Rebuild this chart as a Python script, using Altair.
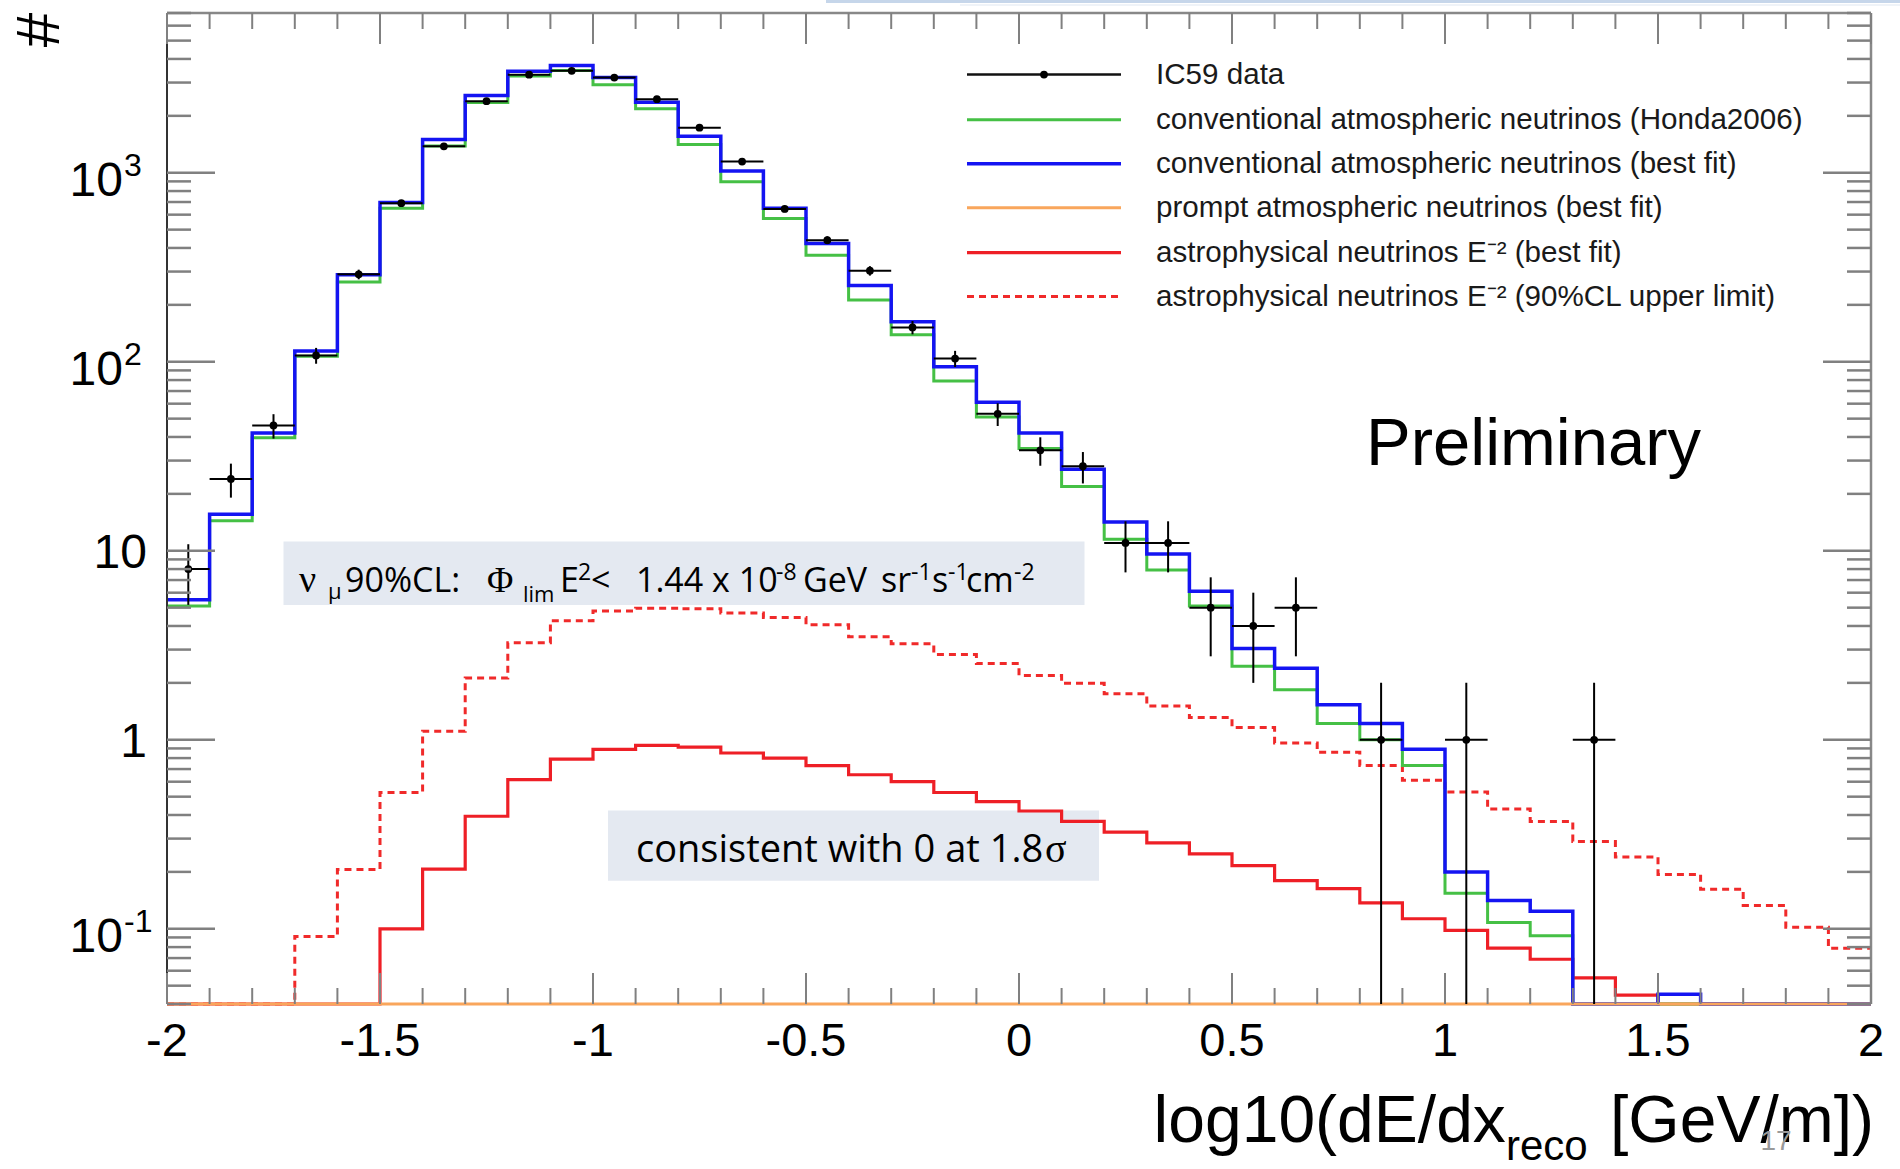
import altair as alt
import numpy as np
import pandas as pd

# ---------------------------------------------------------------------------
# Histogram of log10(dE/dx_reco): 40 bins of width 0.1 between -2 and 2
# ---------------------------------------------------------------------------
bin_edges = np.round(np.linspace(-2.0, 2.0, 41), 2)

# IC59 observed event counts per bin
ic59_counts = [8, 24, 46, 108, 290, 690, 1380, 2390, 3300, 3460,
               3190, 2450, 1730, 1145, 643, 440, 303, 152, 104, 53,
               34, 28, 11, 11, 5, 4, 5, 0, 1, 0,
               1, 0, 0, 1, 0, 0, 0, 0, 0, 0]

# conventional atmospheric neutrinos (Honda2006)
conv_honda = [5.1, 14.4, 39.6, 107, 264, 649, 1386, 2355, 3245, 3475,
              2923, 2183, 1412, 897, 572, 366, 212, 139, 79, 51,
              34.8, 21.9, 11.5, 7.9, 5.1, 2.45, 1.84, 1.22, 1.0, 0.73,
              0.154, 0.108, 0.092, 0, 0, 0, 0, 0, 0, 0]

# conventional atmospheric neutrinos (best fit)
conv_best = [5.5, 15.6, 42, 114, 289, 695, 1500, 2565, 3440, 3690,
             3190, 2360, 1560, 1020, 648, 422, 253, 163, 94, 61,
             42, 27, 14.2, 9.6, 6.1, 3.04, 2.39, 1.53, 1.22, 0.89,
             0.20, 0.141, 0.124, 0, 0, 0.045, 0, 0, 0, 0]

# prompt atmospheric neutrinos (best fit)
prompt_best = [0, 0, 0, 0, 0, 0, 0, 0, 0, 0,
               0, 0, 0, 0, 0, 0, 0, 0, 0, 0,
               0, 0, 0, 0, 0, 0, 0, 0, 0, 0,
               0, 0, 0, 0, 0, 0, 0, 0, 0, 0]

# astrophysical neutrinos E^-2 (best fit)
astro_best = [0, 0, 0, 0, 0, 0.1, 0.207, 0.394, 0.615, 0.79,
              0.89, 0.935, 0.915, 0.851, 0.80, 0.73, 0.653, 0.60, 0.526, 0.471,
              0.42, 0.37, 0.325, 0.285, 0.249, 0.216, 0.18, 0.163, 0.137, 0.113,
              0.098, 0.079, 0.069, 0.055, 0.0446, 0, 0, 0, 0, 0]

# astrophysical neutrinos E^-2 (90%CL upper limit)
astro_limit = [0, 0, 0, 0.091, 0.206, 0.526, 1.11, 2.12, 3.26, 4.26,
               4.80, 4.97, 4.93, 4.69, 4.43, 4.06, 3.51, 3.22, 2.83, 2.53,
               2.19, 1.99, 1.75, 1.51, 1.31, 1.16, 0.96, 0.86, 0.73, 0.61,
               0.53, 0.43, 0.37, 0.29, 0.24, 0.194, 0.162, 0.133, 0.102, 0.079]

x_tick_major = [-2, -1.5, -1, -0.5, 0, 0.5, 1, 1.5, 2]
x_tick_labels = ["-2", "-1.5", "-1", "-0.5", "0", "0.5", "1", "1.5", "2"]
y_decades = [0.1, 1, 10, 100, 1000]

legend_labels = [
    "IC59 data",
    "conventional atmospheric neutrinos (Honda2006)",
    "conventional atmospheric neutrinos (best fit)",
    "prompt atmospheric neutrinos (best fit)",
    "astrophysical neutrinos E\u207b\u00b2 (best fit)",
    "astrophysical neutrinos E\u207b\u00b2 (90%CL upper limit)",
]

# ---------------------------------------------------------------------------
W, H = 1704, 991
FONT = "Liberation Sans"
TICK = "#808080"
FLOOR = 0.03  # empty bins are drawn on the lower frame edge

xs = alt.Scale(domain=[-2, 2], nice=False, zero=False)
ys = alt.Scale(type="log", domain=[0.04, 7000], nice=False, clamp=True)
one = pd.DataFrame({"a": [0]})

# step outline of each histogram (two points per bin)
series = {
    "limit": astro_limit,
    "astro": astro_best,
    "honda": conv_honda,
    "best": conv_best,
    "prompt": prompt_best,
}
rows = []
for name, vals in series.items():
    for i, v in enumerate(vals):
        rows.append({"series": name, "k": 2 * i, "x": bin_edges[i], "v": v})
        rows.append({"series": name, "k": 2 * i + 1, "x": bin_edges[i + 1], "v": v})
steps = pd.DataFrame(rows)

styles = {
    "limit": dict(color="#f02a2a", strokeWidth=3, strokeDash=[7, 5]),
    "astro": dict(color="#ee1f26", strokeWidth=3.2),
    "honda": dict(color="#45c045", strokeWidth=3),
    "best": dict(color="#1414f2", strokeWidth=3.5),
    "prompt": dict(color="#f9a65c", strokeWidth=3),
}

layers = []

# background annotation boxes
box_fill = "#e4e9f1"
layers.append(alt.Chart(one).mark_rect(color=box_fill).encode(
    x=alt.value(116.5), x2=alt.value(917.5), y=alt.value(528.6), y2=alt.value(592)))
layers.append(alt.Chart(one).mark_rect(color=box_fill).encode(
    x=alt.value(441), x2=alt.value(932), y=alt.value(797.6), y2=alt.value(867.8)))

# slide header strip
layers.append(alt.Chart(one).mark_rect(color="#c6d6ea").encode(
    x=alt.value(659), x2=alt.value(1733), y=alt.value(-13), y2=alt.value(-10)))
layers.append(alt.Chart(one).mark_rect(color="#dfe7f2").encode(
    x=alt.value(793), x2=alt.value(1733), y=alt.value(-8.5), y2=alt.value(-7.5)))

for name in series:
    layers.append(
        alt.Chart(steps)
        .transform_filter(alt.datum.series == name)
        .transform_calculate(yv=f"max(datum.v, {FLOOR})")
        .mark_line(interpolate="linear", strokeJoin="miter", **styles[name])
        .encode(
            x=alt.X("x:Q", scale=xs, axis=None),
            y=alt.Y("yv:Q", scale=ys, axis=None),
            order="k:Q",
        )
    )

# data points with Poisson error bars
pts = pd.DataFrame({
    "lo_edge": bin_edges[:-1],
    "hi_edge": bin_edges[1:],
    "n": ic59_counts,
})
pts = pts[pts["n"] > 0]
base_pts = alt.Chart(pts).transform_calculate(
    c="(datum.lo_edge + datum.hi_edge) / 2",
    elo=f"max(datum.n - sqrt(datum.n), {FLOOR})",
    ehi="datum.n + sqrt(datum.n)",
)
layers.append(base_pts.mark_rule(color="black", strokeWidth=2).encode(
    x=alt.X("c:Q", scale=xs, axis=None),
    y=alt.Y("elo:Q", scale=ys, axis=None), y2="ehi:Q"))
layers.append(base_pts.mark_rule(color="black", strokeWidth=2).encode(
    x=alt.X("lo_edge:Q", scale=xs, axis=None), x2="hi_edge:Q",
    y=alt.Y("n:Q", scale=ys, axis=None)))
layers.append(base_pts.mark_circle(color="black", opacity=1, size=60).encode(
    x=alt.X("c:Q", scale=xs, axis=None),
    y=alt.Y("n:Q", scale=ys, axis=None)))

# frame
layers.append(alt.Chart(one).mark_rule(color="#888888", strokeWidth=2.5).encode(
    x=alt.value(0), x2=alt.value(W), y=alt.value(0)))
layers.append(alt.Chart(one).mark_rule(color="#888888", strokeWidth=2.5).encode(
    x=alt.value(W), y=alt.value(0), y2=alt.value(H)))
layers.append(alt.Chart(one).mark_rule(color="#333333", strokeWidth=2).encode(
    x=alt.value(0), y=alt.value(0), y2=alt.value(H)))

# x ticks (inside, bottom and top)
x_minor = [round(v, 1) for v in bin_edges if round(v * 2, 6) != round(v * 2)]
xt_major = pd.DataFrame({"t": x_tick_major})
xt_minor = pd.DataFrame({"t": x_minor})
for df, ln in ((xt_major, 31), (xt_minor, 16)):
    layers.append(alt.Chart(df).mark_rule(color=TICK, strokeWidth=2).encode(
        x=alt.X("t:Q", scale=xs, axis=None), y=alt.value(H), y2=alt.value(H - ln)))
    layers.append(alt.Chart(df).mark_rule(color=TICK, strokeWidth=2).encode(
        x=alt.X("t:Q", scale=xs, axis=None), y=alt.value(0), y2=alt.value(ln)))

# y ticks (inside, left and right)
y_minor = [m * d for d in [0.01, 0.1, 1, 10, 100, 1000] for m in range(2, 10)
           if 0.04 <= m * d <= 7000]
yt_major = pd.DataFrame({"t": y_decades})
yt_minor = pd.DataFrame({"t": y_minor})
for df, ln in ((yt_major, 48), (yt_minor, 24)):
    layers.append(alt.Chart(df).mark_rule(color=TICK, strokeWidth=2.5).encode(
        y=alt.Y("t:Q", scale=ys, axis=None), x=alt.value(0), x2=alt.value(ln)))
    layers.append(alt.Chart(df).mark_rule(color=TICK, strokeWidth=2.5).encode(
        y=alt.Y("t:Q", scale=ys, axis=None), x=alt.value(W), x2=alt.value(W - ln)))

# x tick labels
xl = pd.DataFrame({"t": x_tick_major, "lab": x_tick_labels})
layers.append(alt.Chart(xl).mark_text(font=FONT, fontSize=47, color="black",
                                      align="center", baseline="alphabetic").encode(
    x=alt.X("t:Q", scale=xs, axis=None), y=alt.value(1043), text="lab:N"))

# y tick labels: plain and with exponent
yl_plain = pd.DataFrame({"t": [10, 1], "lab": ["10", "1"]})
layers.append(alt.Chart(yl_plain).mark_text(font=FONT, fontSize=48, color="black",
                                            align="right", baseline="alphabetic", dy=17).encode(
    y=alt.Y("t:Q", scale=ys, axis=None), x=alt.value(-20), text="lab:N"))
yl_exp = pd.DataFrame({"t": [1000, 100, 0.1], "base": ["10", "10", "10"], "ex": ["3", "2", "-1"]})
layers.append(alt.Chart(yl_exp).mark_text(font=FONT, fontSize=48, color="black",
                                          align="right", baseline="alphabetic", dy=23).encode(
    y=alt.Y("t:Q", scale=ys, axis=None), x=alt.value(-44), text="base:N"))
layers.append(alt.Chart(yl_exp).mark_text(font=FONT, fontSize=32, color="black",
                                          align="left", baseline="alphabetic", dy=3).encode(
    y=alt.Y("t:Q", scale=ys, axis=None), x=alt.value(-43), text="ex:N"))


def label(text, x, y, size, font=FONT, color="black", align="left", **kw):
    return alt.Chart(one).mark_text(text=text, font=font, fontSize=size, color=color,
                                    align=align, baseline="alphabetic", **kw).encode(
        x=alt.value(x), y=alt.value(y))


# axis titles
layers.append(alt.Chart(one).mark_text(text="#", font=FONT, fontSize=62, color="black",
                                       align="center", baseline="middle", angle=270).encode(
    x=alt.value(-127), y=alt.value(17)))
layers.append(label("log10(dE/dx", 986.6, 1128.7, 66))
layers.append(label("reco", 1339, 1147, 42))
layers.append(label("[GeV/m])", 1443, 1128.7, 66))
layers.append(label("17", 1609, 1137, 28, color="#9a9a9a", align="center"))

# Preliminary
layers.append(label("Preliminary", 1199, 452, 67))

# legend
leg_y = [61.6, 106.8, 150.8, 194.8, 239.6, 283.6]
leg_styles = [
    dict(color="#111111", strokeWidth=2.5),
    styles["honda"], styles["best"], styles["prompt"], styles["astro"], styles["limit"],
]
for yy, txt, st in zip(leg_y, legend_labels, leg_styles):
    layers.append(alt.Chart(one).mark_rule(**st).encode(
        x=alt.value(800), x2=alt.value(954), y=alt.value(yy)))
    layers.append(alt.Chart(one).mark_text(text=txt, font=FONT, fontSize=29.6, color="#1a1a1a",
                                           align="left", baseline="middle").encode(
        x=alt.value(989), y=alt.value(yy)))
layers.append(alt.Chart(one).mark_circle(color="black", opacity=1, size=60).encode(
    x=alt.value(877), y=alt.value(leg_y[0])))

# flux limit annotation
SANS = "Open Sans"
SERIF = "Liberation Serif"
BL = 578.7
pieces = [
    ("\u03bd", 132, BL, 38, SERIF),
    ("\u03bc", 161, BL + 7, 22, SANS),
    ("90%CL:", 178, BL, 34, SANS),
    ("\u03a6", 320, BL, 36, SERIF),
    ("lim", 356, BL + 10, 22, SANS),
    ("E", 393, BL, 34, SANS),
    ("2", 411, BL - 12, 23, SANS),
    ("<", 424, BL, 34, SANS),
    ("1.44 x 10", 469, BL, 34, SANS),
    ("-8", 609, BL - 12, 23, SANS),
    ("GeV", 636, BL, 34, SANS),
    ("sr", 714, BL, 34, SANS),
    ("-1", 744, BL - 12, 23, SANS),
    ("s", 765, BL, 34, SANS),
    ("-1", 781, BL - 12, 23, SANS),
    ("cm", 799, BL, 34, SANS),
    ("-2", 847, BL - 12, 23, SANS),
]
for txt, x, y, s, f in pieces:
    layers.append(label(txt, x, y, s, font=f))

# significance annotation
layers.append(label("consistent with 0 at 1.8", 469, 849, 38, font=SANS))
layers.append(label("\u03c3", 878, 849, 40, font=SERIF))

chart = alt.layer(*layers).properties(
    width=W,
    height=H,
    autosize=alt.AutoSizeParams(type="none"),
    padding={"left": 167, "top": 13, "right": 29, "bottom": 165},
    background="white",
).configure_view(stroke=None)

chart.save("out.html", embed_options={"renderer": "svg", "actions": False})
